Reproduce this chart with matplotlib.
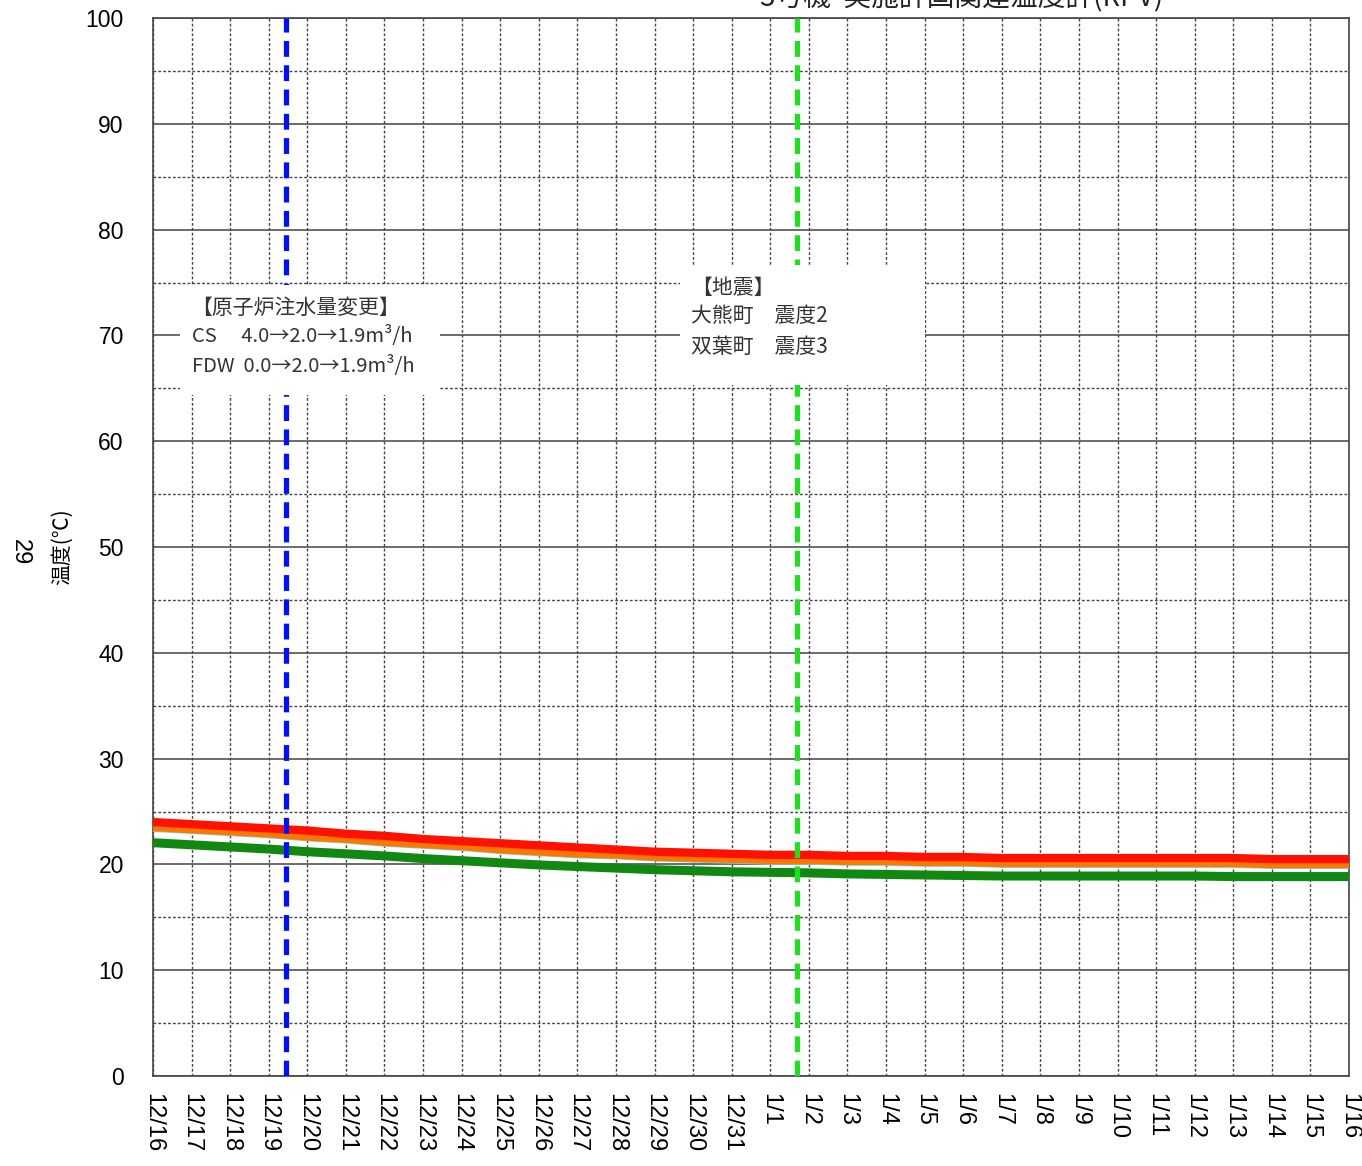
import matplotlib
matplotlib.use("Agg")
import matplotlib.pyplot as plt
from matplotlib.patches import Rectangle
from matplotlib.ticker import MultipleLocator

plt.rcParams['font.family'] = ['Liberation Sans', 'Noto Sans CJK JP', 'DejaVu Sans']
JP = ['Noto Sans CJK JP', 'DejaVu Sans']

# ---- data ----
date_labels = ["12/16", "12/17", "12/18", "12/19", "12/20", "12/21", "12/22", "12/23",
               "12/24", "12/25", "12/26", "12/27", "12/28", "12/29", "12/30", "12/31",
               "1/1", "1/2", "1/3", "1/4", "1/5", "1/6", "1/7", "1/8", "1/9", "1/10",
               "1/11", "1/12", "1/13", "1/14", "1/15", "1/16"]
days = list(range(len(date_labels)))

temp_red = [24.0, 23.8, 23.6, 23.4, 23.2, 22.9, 22.7, 22.4, 22.2, 22.0, 21.8, 21.6,
            21.4, 21.2, 21.1, 21.0, 20.9, 20.9, 20.8, 20.8, 20.7, 20.7, 20.6, 20.6,
            20.6, 20.6, 20.6, 20.6, 20.6, 20.5, 20.5, 20.5]
temp_orange = [23.5, 23.3, 23.1, 22.9, 22.6, 22.4, 22.1, 21.9, 21.7, 21.4, 21.2, 21.0,
               20.9, 20.7, 20.6, 20.5, 20.4, 20.4, 20.3, 20.3, 20.2, 20.2, 20.1, 20.1,
               20.1, 20.1, 20.1, 20.1, 20.1, 20.0, 20.0, 20.0]
temp_cyan = [23.2, 23.0, 22.8, 22.6, 22.3, 22.1, 21.8, 21.6, 21.4, 21.1, 20.9, 20.7,
             20.6, 20.4, 20.3, 20.2, 20.1, 20.1, 20.0, 20.0, 19.9, 19.9, 19.8, 19.8,
             19.8, 19.8, 19.8, 19.8, 19.8, 19.7, 19.7, 19.7]
temp_green = [22.05, 21.85, 21.65, 21.45, 21.2, 21.0, 20.8, 20.55, 20.35, 20.15, 19.95,
              19.8, 19.65, 19.5, 19.4, 19.3, 19.25, 19.2, 19.1, 19.05, 19.0, 18.95, 18.9,
              18.9, 18.9, 18.9, 18.9, 18.9, 18.85, 18.85, 18.85, 18.85]

event_injection = 3.45   # days after 12/16
event_quake = 16.68

injection_text = ["【原子炉注水量変更】", "CS　 4.0→2.0→1.9m³/h", "FDW  0.0→2.0→1.9m³/h"]
quake_text = ["【地震】", "大熊町　震度2", "双葉町　震度3"]

# ---- figure ----
W, H = 1362, 1166
fig = plt.figure(figsize=(W / 100, H / 100), dpi=100)
L, R, T, B = 153, 1349, 18, 1076
ax = fig.add_axes([L / W, 1 - B / H, (R - L) / W, (B - T) / H])

ax.set_xlim(0, 31)
ax.set_ylim(0, 100)
ax.yaxis.set_major_locator(MultipleLocator(10))
ax.yaxis.set_minor_locator(MultipleLocator(5))
ax.set_xticks(days)
ax.set_xticklabels(date_labels, rotation=270, fontsize=17, va='top', ha='center')
ax.tick_params(axis='y', labelsize=16.5, length=0, pad=21)
ax.tick_params(axis='x', length=0, pad=12)
ax.tick_params(which='minor', length=0)

ax.grid(which='major', axis='y', color='#444444', linewidth=1.1, linestyle='-')
ax.grid(which='minor', axis='y', color='#444444', linewidth=1.0, linestyle=(0, (2, 1.5)))
ax.grid(which='major', axis='x', color='#444444', linewidth=1.0, linestyle=(0, (2, 1.5)))
ax.set_axisbelow(True)
for s in ax.spines.values():
    s.set_color('#444444')
    s.set_linewidth(1.2)

ax.plot(days, temp_cyan, color='#66dddd', linewidth=2, zorder=3)
ax.plot(days, temp_green, color='#118811', linewidth=6.5, zorder=4, solid_capstyle='butt')
ax.plot(days, temp_orange, color='#ff7700', linewidth=5.5, zorder=4, solid_capstyle='butt')
ax.plot(days, temp_red, color='#ff1100', linewidth=6, zorder=5, solid_capstyle='butt')

ax.axvline(event_injection, color='#0010ee', linewidth=3.8, linestyle=(0, (3, 1.6)), zorder=6)
ax.axvline(event_quake, color='#22dd22', linewidth=3.8, linestyle=(0, (3, 1.6)), zorder=6)

# annotation boxes (white backgrounds hiding the grid)
ax.add_patch(Rectangle((0.7, 64.4), 6.74, 10.4, facecolor='white', edgecolor='none', zorder=7))
ax.add_patch(Rectangle((13.66, 65.3), 6.35, 11.4, facecolor='white', edgecolor='none', zorder=7))

ys1 = [72.6, 69.9, 67.1]
sizes1 = [15, 14.5, 14.5]
for t, y, fs in zip(injection_text, ys1, sizes1):
    ax.text(1.0, y, t, fontsize=fs, color='#333333',
            family=JP, va='center', ha='left', zorder=8)
ys2 = [74.5, 71.8, 68.9]
for t, y in zip(quake_text, ys2):
    ax.text(13.95, y, t, fontsize=15, color='#333333', family=JP, va='center', ha='left', zorder=8)

ax.set_ylabel("温度(℃)", family=JP, fontsize=15)
ax.yaxis.set_label_coords((73 - L) / (R - L), 0.5)
fig.text(20 / W, 1 - 552 / H, "29", rotation=270, fontsize=17, ha='center', va='center')
fig.text(962 / W, 1 - 6 / H, "3号機  実施計画関連温度計(RPV)", family=JP, fontsize=20,
         ha='center', va='baseline', color='#222222')

fig.savefig("out.png", dpi=100)
